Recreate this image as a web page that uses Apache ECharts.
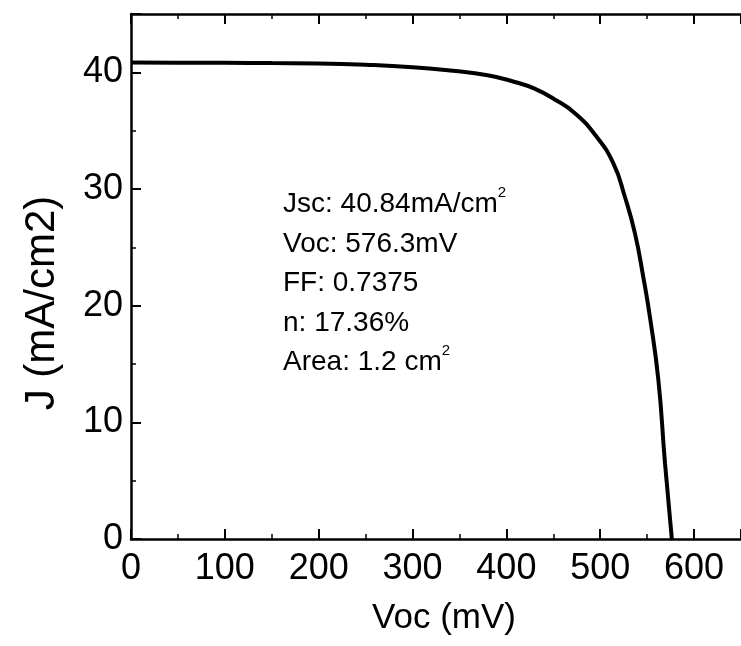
<!DOCTYPE html>
<html>
<head>
<meta charset="utf-8">
<script src="https://cdn.jsdelivr.net/npm/echarts@6/dist/echarts.min.js"></script>
<style>
  html, body { margin: 0; padding: 0; background: #fff; }
  #chart { width: 741px; height: 646px; }
</style>
</head>
<body>
<div id="chart"></div>
<script>
// J-V curve of the cell: voltage (mV) and current density (mA/cm2)
const voltage = [0, 50, 100, 150, 200, 250, 300, 340, 380, 410, 430, 451, 473, 495, 514, 526, 537, 546, 553, 562, 569, 576.3];
const current = [40.84, 40.83, 40.82, 40.79, 40.76, 40.65, 40.44, 40.15, 39.75, 39.15, 38.6, 37.7, 36.5, 34.6, 32.2, 29.4, 26.2, 22.4, 19.0, 13.6, 6.5, 0];

// Performance summary printed inside the plot
const summaryLines = [
  'Jsc: 40.84mA/cm{sup|2}',
  'Voc: 576.3mV',
  'FF: 0.7375',
  'n: 17.36%',
  'Area: 1.2 cm{sup|2}'
];

const xTitle = 'Voc (mV)';
const yTitle = 'J (mA/cm2)';

const xTicks = { min: 0, max: 650, interval: 100 };
const yTicks = { min: 0, max: 45, interval: 10 };

const FONT = "'Liberation Sans', Arial, Helvetica, sans-serif";
const INK = '#000';

const chart = echarts.init(document.getElementById('chart'), null, { renderer: 'canvas' });

const baseX = {
  type: 'value',
  min: xTicks.min,
  max: xTicks.max,
  interval: xTicks.interval,
  splitLine: { show: false },
  axisLine: { show: true, onZero: false, lineStyle: { color: INK, width: 2.5 } },
  axisTick: { show: true, inside: true, length: 10, lineStyle: { color: INK, width: 2 } },
  minorTick: { show: true, splitNumber: 2, length: 5, lineStyle: { color: INK, width: 1.5 } }
};

chart.setOption({
  backgroundColor: '#fff',
  animation: false,
  grid: { left: 131, right: -8, top: 14, bottom: 107, containLabel: false },
  xAxis: [
    Object.assign({}, baseX, {
      position: 'bottom',
      axisLabel: { show: true, margin: 12, fontFamily: FONT, fontSize: 36, color: INK, showMaxLabel: false }
    }),
    Object.assign({}, baseX, {
      position: 'top',
      axisLabel: { show: false }
    })
  ],
  yAxis: {
    type: 'value',
    min: yTicks.min,
    max: yTicks.max,
    interval: yTicks.interval,
    splitLine: { show: false },
    axisLine: { show: true, onZero: false, lineStyle: { color: INK, width: 2.5 } },
    axisTick: { show: true, inside: true, length: 10, lineStyle: { color: INK, width: 2 } },
    minorTick: { show: true, splitNumber: 2, length: 5, lineStyle: { color: INK, width: 1.5 } },
    axisLabel: { margin: 8, fontFamily: FONT, fontSize: 36, color: INK, showMaxLabel: false }
  },
  series: [{
    type: 'line',
    xAxisIndex: 0,
    data: voltage.map((v, i) => [v, current[i]]),
    smooth: 0.5,
    showSymbol: false,
    symbol: 'none',
    lineStyle: { color: INK, width: 4 }
  }],
  graphic: [
    {
      // axis titles
      type: 'text',
      x: 444,
      y: 618,
      style: { text: xTitle, fontFamily: FONT, fontSize: 35, fill: INK, align: 'center', verticalAlign: 'middle' }
    },
    {
      type: 'text',
      x: 42,
      y: 303,
      rotation: Math.PI / 2,
      style: { text: yTitle, fontFamily: FONT, fontSize: 42, fill: INK, align: 'center', verticalAlign: 'middle' }
    },
    {
      type: 'text',
      left: 283,
      top: 185,
      style: {
        text: summaryLines.join('\n'),
        fontFamily: FONT,
        fontSize: 28,
        lineHeight: 39.5,
        fill: INK,
        rich: {
          sup: { fontFamily: FONT, fontSize: 15, fill: INK, verticalAlign: 'top', lineHeight: 39.5, padding: [0, 0, 14, 0] }
        }
      }
    }
  ]
});
</script>
</body>
</html>
